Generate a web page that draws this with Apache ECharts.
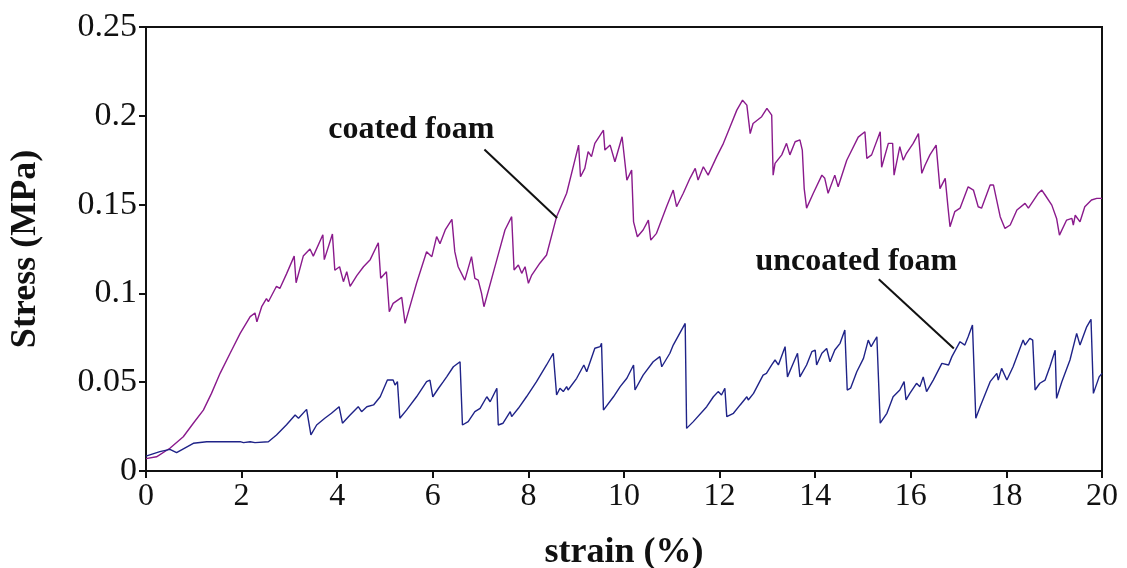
<!DOCTYPE html>
<html>
<head>
<meta charset="utf-8">
<style>
  html, body { margin: 0; padding: 0; background: #fff; }
  #chart { width: 1127px; height: 568px; }
</style>
<script src="https://cdn.jsdelivr.net/npm/echarts@6/dist/echarts.min.js"></script>
</head>
<body>
<div id="chart"></div>
<script>
// Stress–strain curves of coated and uncoated foam (strain in %, stress in MPa)
const coatedStrain = [
  0.00, 0.22, 0.50, 0.78, 0.99, 1.20, 1.37, 1.55, 1.76, 1.97, 2.18, 2.28, 2.32, 2.42, 2.52, 2.56,
  2.73, 2.80, 2.94, 3.10, 3.14, 3.29, 3.43, 3.50, 3.70, 3.73, 3.90, 3.95, 4.05, 4.13, 4.20, 4.27,
  4.41, 4.55, 4.69, 4.86, 4.91, 5.03, 5.09, 5.17, 5.35, 5.42, 5.66, 5.87, 5.98, 6.08, 6.15, 6.26,
  6.40, 6.46, 6.53, 6.67, 6.81, 6.88, 6.95, 7.02, 7.07, 7.34, 7.51, 7.65, 7.70, 7.79, 7.86, 7.93,
  8.00, 8.07, 8.24, 8.38, 8.59, 8.80, 9.05, 9.09, 9.18, 9.25, 9.32, 9.39, 9.57, 9.60, 9.71, 9.81,
  9.96, 10.06, 10.16, 10.20, 10.28, 10.40, 10.51, 10.56, 10.68, 10.89, 11.03, 11.10, 11.24, 11.38,
  11.49, 11.55, 11.66, 11.76, 11.94, 12.08, 12.22, 12.36, 12.48, 12.57, 12.64, 12.70, 12.88, 12.99,
  13.09, 13.12, 13.16, 13.30, 13.40, 13.47, 13.58, 13.68, 13.73, 13.77, 13.82, 13.96, 14.14, 14.20,
  14.27, 14.41, 14.48, 14.66, 14.90, 15.04, 15.08, 15.18, 15.36, 15.39, 15.53, 15.62, 15.65, 15.77,
  15.84, 15.91, 16.05, 16.16, 16.23, 16.30, 16.40, 16.53, 16.61, 16.72, 16.78, 16.82, 16.92, 17.03,
  17.20, 17.31, 17.41, 17.48, 17.66, 17.73, 17.87, 17.97, 18.08, 18.22, 18.39, 18.46, 18.67, 18.74,
  18.81, 18.95, 19.05, 19.11, 19.26, 19.37, 19.40, 19.44, 19.54, 19.64, 19.78, 19.89, 20.00
];
const coatedStress = [
  0.007, 0.008, 0.0128, 0.0193, 0.0269, 0.0343, 0.0437, 0.055, 0.0663, 0.0775, 0.0869, 0.089, 0.084, 0.0925, 0.097, 0.0953,
  0.104, 0.1028, 0.111, 0.121, 0.106, 0.121, 0.125, 0.121, 0.133, 0.119, 0.1334, 0.113, 0.115, 0.1066, 0.1122, 0.104,
  0.110, 0.115, 0.119, 0.1285, 0.1085, 0.1122, 0.0897, 0.0944, 0.0978, 0.0831, 0.1057, 0.1235, 0.1207, 0.132, 0.128, 0.1357,
  0.1417, 0.1235, 0.115, 0.1075, 0.1207, 0.1085, 0.1075, 0.100, 0.0925, 0.119, 0.1357, 0.1432, 0.1132, 0.116, 0.1113, 0.115,
  0.1057, 0.1103, 0.117, 0.1216, 0.1432, 0.1564, 0.1835, 0.1657, 0.1704, 0.1798, 0.177, 0.1845, 0.1919, 0.1807, 0.1835, 0.1741,
  0.1882, 0.1638, 0.1694, 0.1403, 0.1319, 0.1357, 0.1413, 0.130, 0.1338, 0.1488, 0.1582, 0.1488, 0.1564, 0.1648,
  0.1704, 0.1638, 0.1713, 0.1666, 0.177, 0.1845, 0.1938, 0.2032, 0.2088, 0.206, 0.19, 0.1957, 0.1995, 0.2042,
  0.2004, 0.1666, 0.1732, 0.178, 0.1845, 0.178, 0.1854, 0.1864, 0.1807, 0.159, 0.148, 0.1564, 0.1666, 0.1648,
  0.1564, 0.1666, 0.160, 0.175, 0.188, 0.191, 0.176, 0.178, 0.191, 0.171, 0.1845, 0.1845, 0.1666, 0.1826,
  0.175, 0.1789, 0.1845, 0.190, 0.1676, 0.1723, 0.178, 0.1835, 0.159, 0.1648, 0.148, 0.1375, 0.146, 0.148,
  0.160, 0.1582, 0.1488, 0.148, 0.161, 0.161, 0.1432, 0.1366, 0.1385, 0.147, 0.1507, 0.148, 0.1564, 0.1582,
  0.1554, 0.1497, 0.1422, 0.1328, 0.1413, 0.1422, 0.1385, 0.144, 0.1403, 0.1488, 0.1526, 0.1535, 0.1535
];

const uncoatedStrain = [
  0.00, 0.29, 0.50, 0.64, 0.99, 1.27, 1.97, 2.04, 2.18, 2.28, 2.56, 2.73, 2.94, 3.12, 3.19, 3.36,
  3.45, 3.57, 3.74, 3.88, 4.04, 4.11, 4.27, 4.44, 4.51, 4.62, 4.76, 4.90, 5.05, 5.17, 5.21, 5.26,
  5.31, 5.45, 5.66, 5.87, 5.94, 6.00, 6.12, 6.22, 6.29, 6.43, 6.57, 6.62, 6.74, 6.88, 6.99, 7.13,
  7.20, 7.34, 7.37, 7.47, 7.62, 7.65, 7.79, 7.96, 8.17, 8.38, 8.52, 8.59, 8.66, 8.73, 8.80, 8.83,
  9.01, 9.16, 9.22, 9.39, 9.50, 9.53, 9.57, 9.78, 9.92, 10.06, 10.20, 10.23, 10.40, 10.61, 10.75,
  10.79, 10.96, 11.03, 11.28, 11.31, 11.45, 11.73, 11.87, 11.97, 12.04, 12.11, 12.15, 12.29, 12.43,
  12.57, 12.60, 12.71, 12.91, 12.98, 13.09, 13.16, 13.23, 13.37, 13.42, 13.51, 13.63, 13.68, 13.82,
  13.93, 14.00, 14.03, 14.14, 14.24, 14.31, 14.41, 14.52, 14.62, 14.67, 14.74, 14.87, 15.01, 15.11,
  15.17, 15.29, 15.32, 15.36, 15.50, 15.63, 15.77, 15.86, 15.90, 15.98, 16.12, 16.19, 16.26, 16.33,
  16.47, 16.65, 16.79, 16.86, 17.03, 17.13, 17.20, 17.29, 17.36, 17.45, 17.66, 17.80, 17.83, 17.90,
  18.01, 18.14, 18.35, 18.39, 18.49, 18.55, 18.60, 18.70, 18.81, 18.91, 19.02, 19.05, 19.16, 19.33,
  19.47, 19.54, 19.68, 19.77, 19.82, 19.94, 20.00
];
const uncoatedStress = [
  0.0084, 0.0109, 0.0122, 0.0103, 0.0156, 0.0165, 0.0165, 0.016, 0.0165, 0.016, 0.0165, 0.0203, 0.026, 0.0315, 0.0297, 0.0347,
  0.0203, 0.0259, 0.0297, 0.0325, 0.0362, 0.0269, 0.0315, 0.0362, 0.0334, 0.0362, 0.0372, 0.0418, 0.0512, 0.0512, 0.0484, 0.0503,
  0.0297, 0.0343, 0.0418, 0.0503, 0.0512, 0.0418, 0.0466, 0.0503, 0.053, 0.0587, 0.0615, 0.0259, 0.0278, 0.0334, 0.0353, 0.0418,
  0.039, 0.0466, 0.0259, 0.0269, 0.0334, 0.0306, 0.0353, 0.0418, 0.0503, 0.0597, 0.0663, 0.0428, 0.0466, 0.0447, 0.0475, 0.0456,
  0.0522, 0.0597, 0.0559, 0.0691, 0.070, 0.0719, 0.0343, 0.0418, 0.0475, 0.0522, 0.0597, 0.0456, 0.054, 0.0615, 0.0644,
  0.0587, 0.0663, 0.0709, 0.0831, 0.024, 0.0278, 0.0362, 0.0418, 0.0447, 0.0428, 0.0466, 0.0306, 0.0325, 0.0372,
  0.0418, 0.040, 0.0437, 0.054, 0.055, 0.0597, 0.0625, 0.0597, 0.070, 0.053, 0.0587, 0.0663, 0.053, 0.0597,
  0.0672, 0.0681, 0.0597, 0.0663, 0.069, 0.0615, 0.0681, 0.0719, 0.0794, 0.0456, 0.0466, 0.0559, 0.0634, 0.0737,
  0.070, 0.0756, 0.0766, 0.0269, 0.0325, 0.0418, 0.0456, 0.0503, 0.040, 0.0437, 0.0494, 0.0475, 0.053, 0.0447,
  0.0512, 0.0606, 0.0597, 0.0644, 0.0728, 0.0709, 0.0756, 0.0822, 0.0297, 0.0362, 0.0503, 0.055, 0.0512, 0.0578,
  0.0512, 0.0587, 0.0737, 0.0709, 0.0747, 0.0737, 0.0456, 0.0494, 0.0512, 0.0587, 0.068, 0.0409, 0.0503, 0.0625,
  0.0775, 0.0709, 0.0812, 0.0854, 0.0437, 0.053, 0.055
];

// Callout labels: text, label centre [strain, stress], arrow start and arrow tip
const calloutText = ['coated foam', 'uncoated foam'];
const calloutLabelAt = [[5.55, 0.192], [14.86, 0.1177]];
const calloutArrowFrom = [[7.08, 0.181], [15.33, 0.108]];
const calloutArrowTo = [[8.60, 0.1424], [16.90, 0.069]];

const FONT = "'Liberation Serif', 'Times New Roman', serif";

const zip = (xs, ys) => xs.map((x, i) => [x, ys[i]]);

const chart = echarts.init(document.getElementById('chart'), null, { renderer: 'canvas' });

const calloutSeries = {
  type: 'line',
  data: [],
  silent: true,
  markLine: {
    silent: true,
    animation: false,
    symbol: ['none', 'arrow'],
    symbolSize: [0, 11],
    label: { show: false },
    lineStyle: { color: '#111', width: 2, type: 'solid' },
    emphasis: { disabled: true },
    data: calloutArrowFrom.map((from, i) => [{ coord: from }, { coord: calloutArrowTo[i] }])
  },
  markPoint: {
    silent: true,
    animation: false,
    symbol: 'circle',
    symbolSize: 0,
    label: {
      show: true,
      position: 'inside',
      color: '#111',
      fontFamily: FONT,
      fontWeight: 'bold',
      fontSize: 32,
      formatter: p => p.name
    },
    data: calloutText.map((t, i) => ({ name: t, coord: calloutLabelAt[i] }))
  }
};

chart.setOption({
  animation: false,
  backgroundColor: '#fff',
  grid: {
    left: 146, right: 25, top: 27, bottom: 97,
    containLabel: false,
    outerBoundsMode: 'none',
    show: true, borderColor: '#111', borderWidth: 2, backgroundColor: 'transparent'
  },
  xAxis: {
    type: 'value',
    min: 0, max: 20, interval: 2,
    name: 'strain (%)',
    nameLocation: 'middle',
    nameGap: 64,
    nameTextStyle: { fontFamily: FONT, fontWeight: 'bold', fontSize: 36, color: '#111' },
    axisLine: { onZero: false, lineStyle: { color: '#111', width: 2 } },
    axisTick: { inside: false, length: 7, lineStyle: { color: '#111', width: 2 } },
    axisLabel: { fontFamily: FONT, fontSize: 32, color: '#111', margin: 10 },
    splitLine: { show: false }
  },
  yAxis: {
    type: 'value',
    min: 0, max: 0.25, interval: 0.05,
    name: 'Stress (MPa)',
    nameLocation: 'middle',
    nameGap: 102,
    nameRotate: 90,
    nameTextStyle: { fontFamily: FONT, fontWeight: 'bold', fontSize: 36, color: '#111' },
    axisLine: { show: true, lineStyle: { color: '#111', width: 2 } },
    axisTick: { show: true, inside: false, length: 7, lineStyle: { color: '#111', width: 2 } },
    axisLabel: {
      fontFamily: FONT, fontSize: 34, color: '#111', margin: 9,
      formatter: v => String(parseFloat(v.toFixed(2)))
    },
    splitLine: { show: false }
  },
  series: [
    {
      name: 'coated foam',
      type: 'line',
      data: zip(coatedStrain, coatedStress),
      showSymbol: false,
      lineStyle: { color: '#8a1a8c', width: 1.4 },
      itemStyle: { color: '#8a1a8c' },
      z: 3
    },
    {
      name: 'uncoated foam',
      type: 'line',
      data: zip(uncoatedStrain, uncoatedStress),
      showSymbol: false,
      lineStyle: { color: '#1f2388', width: 1.4 },
      itemStyle: { color: '#1f2388' },
      z: 3
    },
    calloutSeries
  ]
});
</script>
</body>
</html>
